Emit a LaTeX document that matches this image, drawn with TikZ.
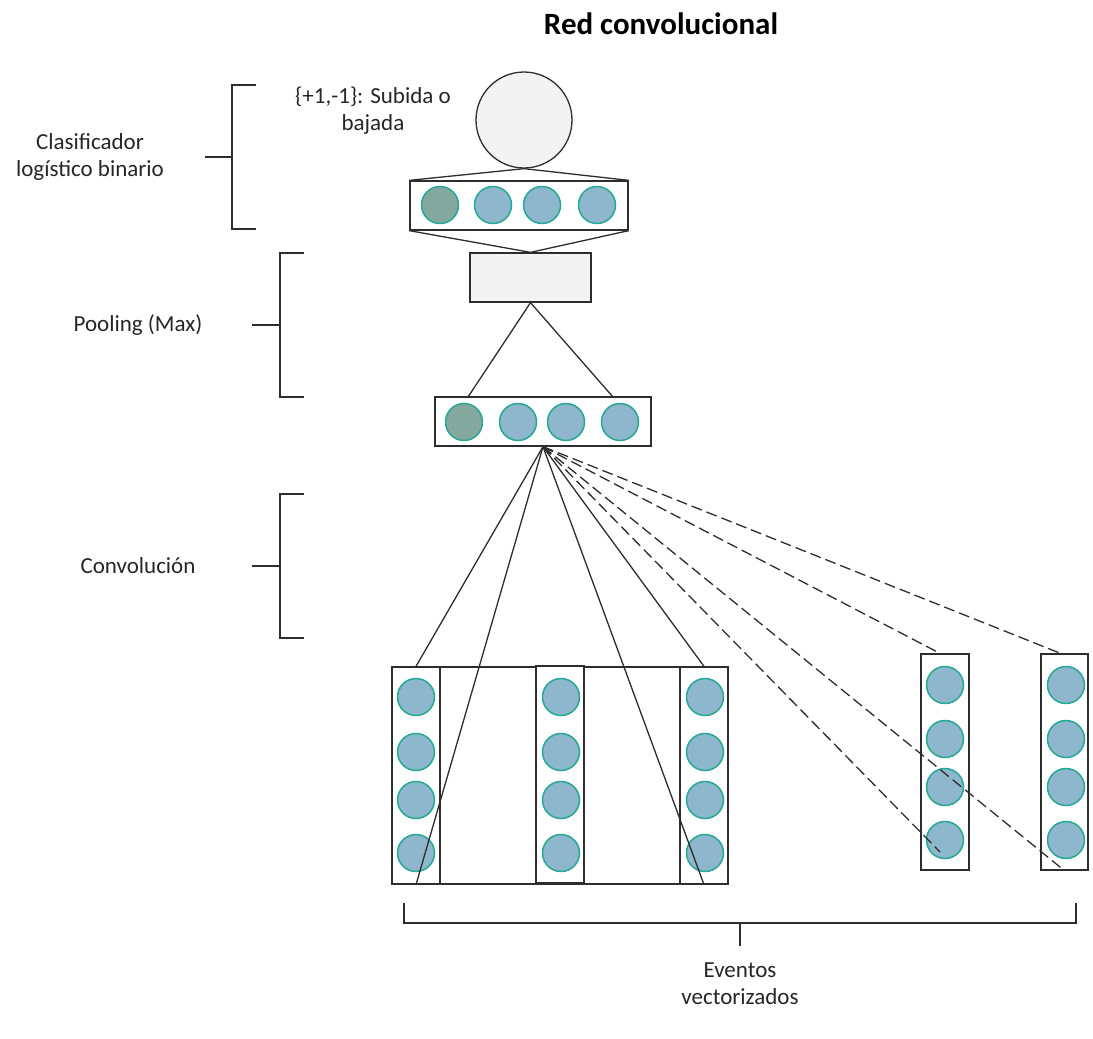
\documentclass[tikz,border=0pt]{standalone}
\usepackage{fontspec}
\setmainfont{Carlito}
\definecolor{lineg}{RGB}{45,45,45}
\definecolor{cblue}{RGB}{142,182,204}
\definecolor{cgreen}{RGB}{132,168,158}
\definecolor{cedge}{RGB}{38,168,148}
\definecolor{lightfill}{RGB}{243,243,243}
\tikzset{
  ln/.style={draw=lineg, line width=1.3pt},
  dsh/.style={draw=lineg, line width=1.3pt, dash pattern=on 11pt off 5pt},
  holder/.style={draw=lineg, line width=1.3pt, fill=white, inner sep=0pt, minimum width=#1},
  unit/.style={circle, draw=cedge, line width=1.5pt, fill=cblue, inner sep=0pt, minimum size=37pt},
  unitg/.style={unit, fill=cgreen},
  txt/.style={font=\fontsize{23}{27}\selectfont, align=center, text=black!85, inner sep=0pt},
  ttl/.style={font=\fontsize{31}{37}\selectfont\bfseries, inner sep=0pt}
}
\begin{document}
\begin{tikzpicture}[x=1pt, y=-1pt]
\useasboundingbox (0,0) rectangle (1093,1039);

% title
\node[ttl] (title) at (661,24) {Red convolucional};

% output neuron
\node[circle, draw=lineg, line width=1.3pt, fill=lightfill, minimum size=96pt, inner sep=0pt] (out) at (524,120) {};
\node[txt] (lab) at (373,111) {\{+1,-1\}: Subida o\\bajada};

% classifier row
\node[holder=218pt, minimum height=49pt] (r1) at (519,205.5) {};
\node[unitg] (r1a) at (440,205) {};
\node[unit]  (r1b) at (493,205) {};
\node[unit]  (r1c) at (542,205) {};
\node[unit]  (r1d) at (597,205) {};

% pooling box
\node[draw=lineg, line width=1.3pt, fill=lightfill, minimum width=121pt, minimum height=49pt, inner sep=0pt] (pool) at (530.5,277.5) {};

% convolution output row
\node[holder=216pt, minimum height=49pt] (r2) at (543,421.5) {};
\node[unitg] (r2a) at (464,422) {};
\node[unit]  (r2b) at (518,422) {};
\node[unit]  (r2c) at (566,422) {};
\node[unit]  (r2d) at (620,422) {};
\coordinate (r2l) at (468,397);
\coordinate (r2r) at (613,397);

% connectors top part
\draw[ln] (out.south) -- (r1.north west);
\draw[ln] (out.south) -- (r1.north east);
\draw[ln] (r1.south west) -- (pool.north);
\draw[ln] (r1.south east) -- (pool.north);
\draw[ln] (pool.south) -- (r2l);
\draw[ln] (pool.south) -- (r2r);

% bottom group
\node[holder=336pt, minimum height=217pt] (big) at (560,775.5) {};
\node[holder=48pt, minimum height=217pt] (colA) at (416,775.5) {};
\node[holder=48pt, minimum height=217pt] (colB) at (560,774.5) {};
\node[holder=48pt, minimum height=217pt] (colC) at (704,775.5) {};
\foreach \n/\y in {1/697,2/752,3/800,4/853}{
  \node[unit] (a\n) at (416,\y) {};
  \node[unit] (b\n) at (561,\y) {};
  \node[unit] (c\n) at (705,\y) {};
}
\node[holder=48pt, minimum height=216pt] (colD) at (945,762) {};
\node[holder=47pt, minimum height=216pt] (colE) at (1064.5,762) {};
\foreach \n/\y in {1/685,2/739,3/787,4/840}{
  \node[unit] (d\n) at (945,\y) {};
  \node[unit] (e\n) at (1066,\y) {};
}

% fan connectors
\coordinate (dlow) at (940,852);
\draw[ln] (r2.south) -- (colA.north);
\draw[ln] (r2.south) -- (colA.south);
\draw[ln] (r2.south) -- (colC.south);
\draw[ln] (r2.south) -- (colC.north);
\draw[dsh] (r2.south) -- ([xshift=-5pt]colD.north);
\draw[dsh] (r2.south) -- (dlow);
\draw[dsh] (r2.south) -- ([xshift=-4pt]colE.north);
\draw[dsh] (r2.south) -- (colE.south);

% left brackets
\draw[ln] (256,85) -- (232,85) -- (232,229) -- (256,229);
\draw[ln] (205,157) -- (232,157);
\node[txt] (t1) at (90,157) {Clasificador\\log\'istico binario};

\draw[ln] (304,253) -- (280,253) -- (280,397) -- (304,397);
\draw[ln] (252,325) -- (280,325);
\node[txt] (t2) at (138,325) {Pooling (Max)};

\draw[ln] (304,494) -- (280,494) -- (280,638) -- (304,638);
\draw[ln] (252,566) -- (280,566);
\node[txt] (t3) at (138,566) {Convoluci\'on};

% bottom bracket
\draw[ln] (404,903) -- (404,923) -- (1076,923) -- (1076,903);
\draw[ln] (740,923) -- (740,946);
\node[txt] (t4) at (740,984) {Eventos\\vectorizados};
\end{tikzpicture}
\end{document}
